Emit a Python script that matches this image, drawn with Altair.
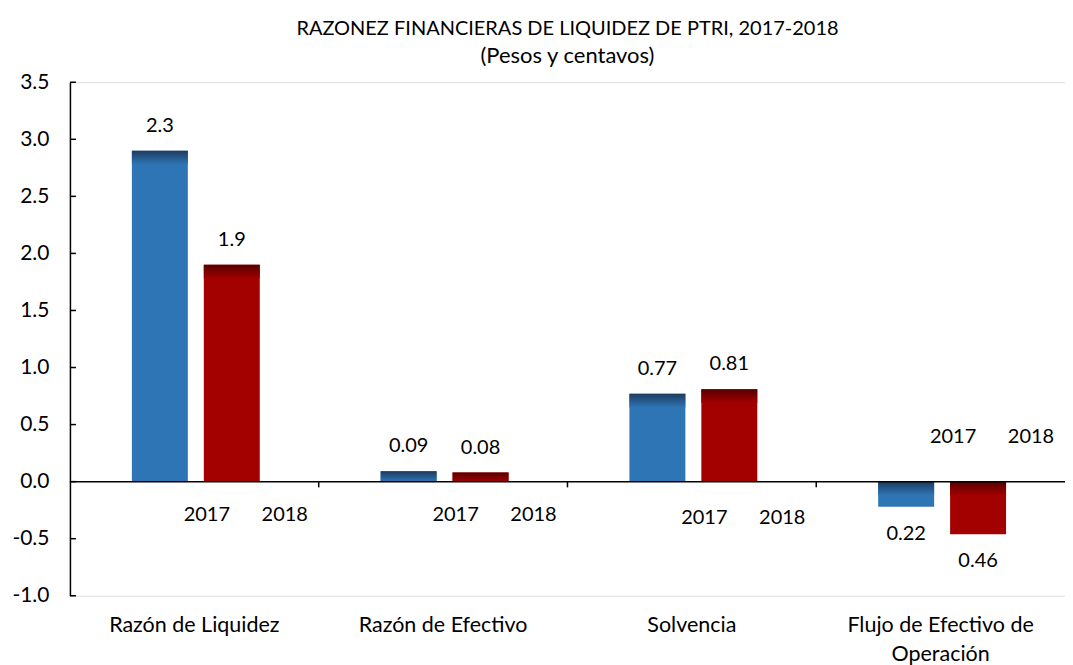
import altair as alt
import pandas as pd

categories = ["Razón de Liquidez", "Razón de Efectivo", "Solvencia", "Flujo de Efectivo de\nOperación"]
series = ["2017", "2018"]
v2017 = [2.9, 0.09, 0.77, -0.22]
v2018 = [1.9, 0.08, 0.81, -0.46]
lab2017 = ["2.3", "0.09", "0.77", "0.22"]
lab2018 = ["1.9", "0.08", "0.81", "0.46"]
# stray series-name labels (as they appear in the original)
stray_y = [-0.29, -0.29, -0.32, 0.39]
yticks = [-1.0, -0.5, 0.0, 0.5, 1.0, 1.5, 2.0, 2.5, 3.0, 3.5]

rows = []
for i, c in enumerate(categories):
    rows.append({"cat": c, "serie": "2017", "v": v2017[i], "lab": lab2017[i], "sy": stray_y[i]})
    rows.append({"cat": c, "serie": "2018", "v": v2018[i], "lab": lab2018[i], "sy": stray_y[i]})
df = pd.DataFrame(rows)

FONT = "Lato"
W, H = 996, 514
BLUE, BLUE_D = "#2E75B6", "#1D3B5E"
RED, RED_D = "#A30000", "#560000"

xs = alt.Scale(domain=categories, paddingInner=0, paddingOuter=0)
xoff = alt.Scale(domain=series, range=[62, 190], paddingInner=0.222, paddingOuter=0)
ys = alt.Scale(domain=[-1.0, 3.5], nice=False, zero=False)

X = alt.X("cat:N", scale=xs, sort=categories, title=None,
          axis=alt.Axis(orient="bottom", domain=False, ticks=False, labelAngle=0,
                        labelFont=FONT, labelFontSize=21.5, labelColor="black",
                        labelPadding=19, labelLineHeight=29, labelLimit=0,
                        labelExpr="split(datum.label, '\\n')"))
XO = alt.XOffset("serie:N", scale=xoff)
Y = alt.Y("v:Q", scale=ys, title=None,
          axis=alt.Axis(values=yticks, ticks=False, grid=False, domainColor="black",
                        domainWidth=1.5, labelFont=FONT, labelFontSize=21,
                        labelColor="black", labelPadding=21,
                        labelExpr="replace(format(datum.value, '.1f'), '\u2212', '-')"))

base = alt.Chart(df)

bars = base.mark_bar().encode(
    x=X, xOffset=XO, y=Y, y2=alt.datum(0),
    color=alt.Color("serie:N", scale=alt.Scale(domain=series, range=[BLUE, RED]), legend=None),
)

def overlay(s, dark, light):
    return base.transform_filter(alt.datum.serie == s).transform_calculate(
        ya="datum.v >= 0 ? datum.v : 0",
        yb="datum.v >= 0 ? max(0, datum.v - 0.12) : max(datum.v, -0.12)",
    ).mark_bar(color=alt.Gradient(gradient="linear", x1=0, y1=0, x2=0, y2=1,
                                  stops=[alt.GradientStop(offset=0, color=dark),
                                         alt.GradientStop(offset=1, color=light)])).encode(
        x=alt.X("cat:N", scale=xs, sort=categories), xOffset=XO,
        y=alt.Y("ya:Q", scale=ys), y2="yb:Q",
    )

ov1 = overlay("2017", BLUE_D, BLUE)
ov2 = overlay("2018", RED_D, RED)

XX = alt.X("cat:N", scale=xs, sort=categories)

txt_pos = base.transform_filter(alt.datum.v >= 0).mark_text(
    font=FONT, fontSize=20, color="black", dy=-25).encode(
    x=XX, xOffset=XO, y=alt.Y("v:Q", scale=ys), text="lab:N")
txt_neg = base.transform_filter(alt.datum.v < 0).mark_text(
    font=FONT, fontSize=20, color="black", dy=27).encode(
    x=XX, xOffset=XO, y=alt.Y("v:Q", scale=ys), text="lab:N")

stray17 = base.transform_filter(alt.datum.serie == "2017").mark_text(
    font=FONT, fontSize=20, color="black", dx=47).encode(
    x=XX, xOffset=XO, y=alt.Y("sy:Q", scale=ys), text="serie:N")
stray18 = base.transform_filter(alt.datum.serie == "2018").mark_text(
    font=FONT, fontSize=20, color="black", dx=53).encode(
    x=XX, xOffset=XO, y=alt.Y("sy:Q", scale=ys), text="serie:N")

zero_line = alt.Chart(pd.DataFrame({"z": [0.0]})).mark_rule(color="black", strokeWidth=1.5).encode(
    y=alt.Y("z:Q", scale=ys), x=alt.value(0), x2=alt.value(W))

ytick_marks = alt.Chart(pd.DataFrame({"t": yticks})).mark_rule(color="black", strokeWidth=1.5).encode(
    y=alt.Y("t:Q", scale=ys), x=alt.value(0), x2=alt.value(6))

xtick_marks = alt.Chart(pd.DataFrame({"cat": categories[1:], "a": [0.0] * 3, "b": [-0.05] * 3})).mark_rule(
    color="black", strokeWidth=1.5).encode(
    x=alt.X("cat:N", scale=xs, sort=categories, bandPosition=0),
    y=alt.Y("a:Q", scale=ys), y2="b:Q")

chart = alt.layer(bars, ov1, ov2, zero_line, ytick_marks, xtick_marks, txt_pos, txt_neg,
                  stray17, stray18).properties(
    width=W, height=H,
    autosize=alt.AutoSizeParams(type="none"),
    padding={"left": 62, "top": 74, "right": 0, "bottom": 69},
    title=alt.TitleParams(text="RAZONEZ FINANCIERAS DE LIQUIDEZ DE PTRI, 2017-2018",
                          subtitle="(Pesos y centavos)", font=FONT, subtitleFont=FONT,
                          fontSize=20, subtitleFontSize=22, fontWeight="normal",
                          color="black", subtitleColor="black", anchor="middle",
                          offset=4, subtitlePadding=7),
).configure_view(stroke=None).configure(background="white")

chart.save("out.html", embed_options={"renderer": "svg", "actions": False})
